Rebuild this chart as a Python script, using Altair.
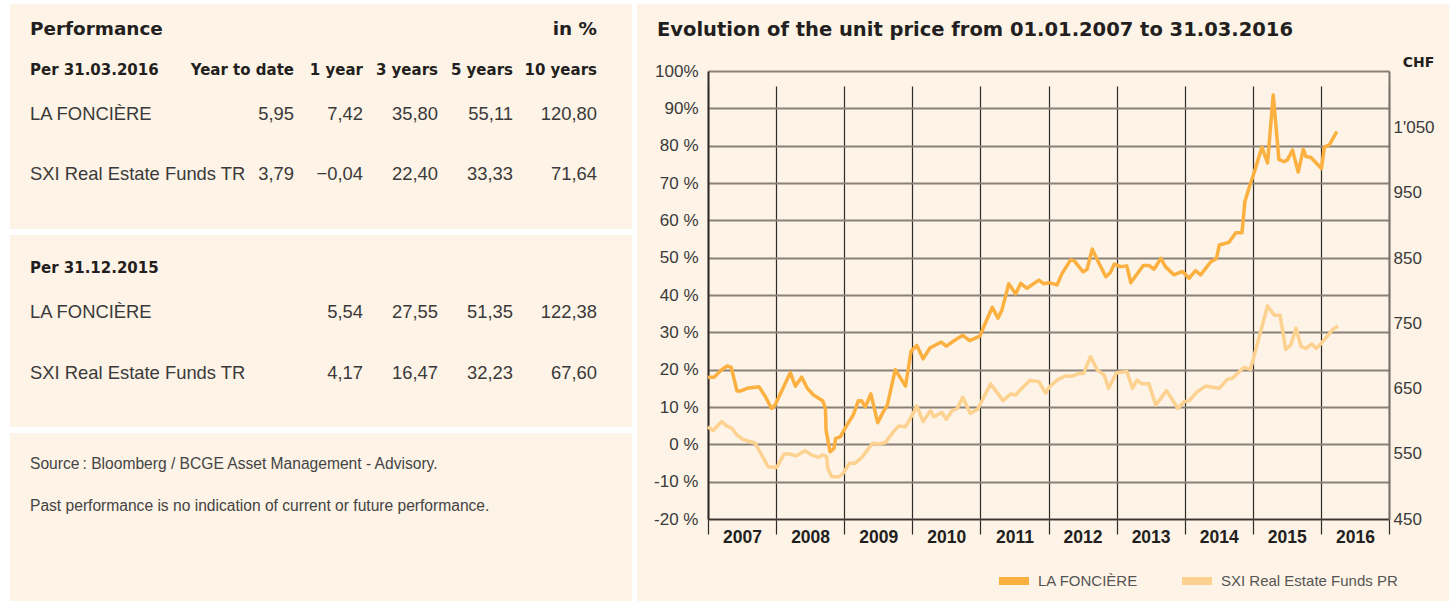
import altair as alt
import pandas as pd

# ---------------- table data ----------------
periods = ["Year to date", "1 year", "3 years", "5 years", "10 years"]
date_2016 = "Per 31.03.2016"
date_2015 = "Per 31.12.2015"
name_la = "LA FONCIÈRE"
name_sxi_tr = "SXI Real Estate Funds TR"
perf_2016_la = [5.95, 7.42, 35.80, 55.11, 120.80]
perf_2016_sxi = [3.79, -0.04, 22.40, 33.33, 71.64]
cols_2015 = [1, 2, 3, 4]          # 31.12.2015 figures sit under "1 year" ... "10 years"
perf_2015_la = [5.54, 27.55, 51.35, 122.38]
perf_2015_sxi = [4.17, 16.47, 32.23, 67.60]
notes = ["Source\u2009: Bloomberg / BCGE Asset Management - Advisory.",
         "Past performance is no indication of current or future performance."]

# ---------------- chart data (months since 01.01.2007, performance in %) ----------------
la_months = [0.0, 1.1, 2.4, 3.4, 4.1, 5.1, 5.8, 6.9, 9.0, 10.1, 11.2, 11.8, 14.5, 15.4, 16.5,
             17.5, 18.6, 20.2, 20.7, 20.8, 21.5, 22.2, 22.5, 23.3, 24.5, 25.6, 26.5, 27.1, 27.7,
             28.7, 29.9, 30.8, 31.6, 33.0, 34.8, 35.8, 36.8, 37.9, 39.1, 41.1, 42.0, 43.6, 44.9,
             46.1, 47.9, 48.6, 50.1, 51.1, 51.8, 53.0, 54.2, 55.1, 56.2, 58.3, 59.2, 60.1, 61.5,
             62.4, 63.9, 64.5, 66.1, 66.8, 67.7, 68.9, 70.1, 70.9, 71.6, 72.7, 73.8, 74.5, 75.6,
             76.7, 77.7, 78.6, 79.8, 80.6, 82.1, 83.6, 84.8, 85.9, 86.8, 88.6, 89.6, 90.1, 91.8,
             93.0, 94.1, 94.6, 95.4, 96.2, 97.6, 98.6, 99.6, 100.6, 101.5, 102.1, 103.0, 104.0,
             104.9, 105.4, 106.2, 108.1, 108.6, 109.5, 110.8]
la_pct = [18.0, 18.0, 20.0, 21.0, 20.6, 14.3, 14.3, 15.0, 15.4, 12.8, 9.6, 10.5, 19.2, 15.6, 18.0,
          15.0, 13.2, 11.7, 9.6, 3.8, -2.0, -1.1, 1.6, 2.0, 5.2, 7.9, 11.7, 11.6, 10.0,
          13.5, 5.8, 8.5, 10.5, 20.0, 15.6, 25.0, 26.5, 22.9, 25.8, 27.4, 26.3, 28.0, 29.2,
          27.8, 29.0, 31.5, 36.7, 33.8, 36.0, 43.0, 40.3, 43.1, 41.8, 44.0, 43.0, 43.3, 42.7,
          45.8, 49.4, 49.2, 46.2, 46.9, 52.3, 48.5, 44.9, 46.0, 48.3, 47.6, 47.8, 43.3, 45.6,
          47.9, 47.9, 46.9, 49.8, 47.6, 45.4, 46.3, 44.5, 46.5, 45.4, 48.9, 49.8, 53.4, 54.1,
          56.7, 56.7, 65.0, 69.0, 72.6, 79.6, 75.4, 93.6, 76.3, 75.7, 76.2, 78.8, 72.9,
          79.0, 77.0, 76.9, 73.9, 79.6, 80.2, 83.8]
sxi_months = [0.0, 0.9, 2.4, 3.2, 4.2, 5.1, 6.2, 8.3, 10.6, 12.1, 13.4, 14.5, 15.5, 17.1, 18.3,
              19.5, 20.2, 20.9, 21.1, 21.8, 23.0, 23.8, 24.9, 25.9, 27.1, 29.0, 30.1, 31.2, 32.7,
              33.6, 34.8, 35.9, 36.8, 37.9, 39.2, 39.8, 41.2, 42.0, 43.0, 43.9, 44.9, 46.2, 47.5,
              49.8, 52.0, 53.3, 54.2, 55.1, 56.7, 58.3, 59.5, 60.1, 61.5, 63.0, 64.2, 65.4, 66.2,
              67.4, 68.6, 69.8, 70.6, 72.0, 73.8, 74.8, 75.6, 76.5, 77.7, 78.9, 80.8, 82.8, 83.9,
              84.8, 86.2, 87.7, 88.9, 90.1, 91.5, 92.4, 94.4, 95.6, 98.6, 99.8, 100.8, 101.8,
              102.7, 103.6, 104.5, 105.4, 106.4, 107.2, 108.1, 110.1, 111.0]
sxi_pct = [4.7, 3.7, 6.1, 5.0, 4.3, 2.5, 1.3, 0.3, -6.0, -6.2, -2.6, -2.6, -3.1, -1.7, -2.9,
           -3.5, -2.8, -3.3, -6.4, -8.7, -8.7, -7.8, -5.1, -5.1, -3.5, 0.3, 0.1, 0.4, 3.4,
           4.9, 4.7, 7.6, 10.3, 6.1, 9.0, 7.4, 8.5, 6.7, 9.0, 9.6, 12.6, 8.3, 9.4,
           16.2, 11.7, 13.5, 13.2, 14.7, 17.1, 16.8, 13.7, 15.3, 17.2, 18.3, 18.3, 19.0, 19.0,
           23.5, 19.9, 18.6, 15.0, 19.2, 19.5, 15.0, 17.2, 16.2, 16.2, 10.5, 14.4, 9.6, 11.4,
           11.7, 14.1, 15.6, 15.3, 15.0, 17.4, 17.7, 20.6, 20.1, 37.1, 34.6, 34.6, 25.4,
           26.6, 31.1, 26.2, 25.7, 26.9, 25.7, 27.1, 30.8, 31.7]
assert len(la_months) == len(la_pct) and len(sxi_months) == len(sxi_pct)

legend_names = ["LA FONCIÈRE", "SXI Real Estate Funds PR"]
chart_title = "Evolution of the unit price from 01.01.2007 to 31.03.2016"
pct_ticks = list(range(-20, 101, 10))
year_ticks = list(range(2007, 2018))
chf_ticks = [450, 550, 650, 750, 850, 950, 1050]

# ---------------- styles ----------------
CREAM = "#fdf3e6"
FONT_R = "Liberation Sans"
FONT_B = "DejaVu Sans"
DARK = "#231f20"
TXT = "#3a3a3a"
C_LA = "#fbb040"
C_SXI = "#fdd290"


def fmt(v):
    s = f"{abs(v):.2f}".replace(".", ",")
    return ("\u2212" if v < 0 else "") + s


col_scale = alt.Scale(domain=[0, 1, 2, 3, 4], range=[284, 353, 428, 503, 587], nice=False, zero=False)


def txt(text, y, size, bold, color, x=20, align="left", font=None):
    return alt.Chart(pd.DataFrame({"t": [text]})).mark_text(
        align=align, baseline="middle", fontSize=size,
        fontWeight="bold" if bold else "normal",
        font=font or (FONT_B if bold else FONT_R), color=color
    ).encode(x=alt.value(x), y=alt.value(y), text="t:N")


def cells(texts, cols, y, size, bold, color):
    df = pd.DataFrame({"col": cols, "t": texts})
    return alt.Chart(df).mark_text(
        align="right", baseline="middle", fontSize=size,
        fontWeight="bold" if bold else "normal",
        font=FONT_B if bold else FONT_R, color=color
    ).encode(x=alt.X("col:Q", scale=col_scale, axis=None), y=alt.value(y), text="t:N")


ROW = 18.4
box1 = alt.layer(
    txt("Performance", 25, 18.4, True, DARK),
    cells(["in %"], [4], 25, 18.4, True, DARK),
    txt(date_2016, 66, 15, True, DARK),
    cells(periods, [0, 1, 2, 3, 4], 66, 15, True, DARK),
    txt(name_la, 110, ROW, False, TXT),
    cells([fmt(v) for v in perf_2016_la], [0, 1, 2, 3, 4], 110, ROW, False, TXT),
    txt(name_sxi_tr, 170, ROW, False, TXT),
    cells([fmt(v) for v in perf_2016_sxi], [0, 1, 2, 3, 4], 170, ROW, False, TXT),
).properties(width=622, height=225)

box2 = alt.layer(
    txt(date_2015, 33, 15, True, DARK),
    txt(name_la, 77, ROW, False, TXT),
    cells([fmt(v) for v in perf_2015_la], cols_2015, 77, ROW, False, TXT),
    txt(name_sxi_tr, 138, ROW, False, TXT),
    cells([fmt(v) for v in perf_2015_sxi], cols_2015, 138, ROW, False, TXT),
).properties(width=622, height=192)

box3 = alt.layer(
    txt(notes[0], 31, 15.6, False, "#444444"),
    txt(notes[1], 73, 15.6, False, "#444444"),
).properties(width=622, height=168)

left = alt.vconcat(box1, box2, box3, spacing=6)

# ---------------- right panel ----------------
lines_df = pd.concat([
    pd.DataFrame({"series": legend_names[0], "year": [2007 + m / 12 for m in la_months], "pct": la_pct}),
    pd.DataFrame({"series": legend_names[1], "year": [2007 + m / 12 for m in sxi_months], "pct": sxi_pct}),
])

title_layer = alt.Chart(pd.DataFrame({"t": [chart_title]})).mark_text(
    align="left", baseline="middle", fontSize=19.5, fontWeight="bold", font=FONT_B, color=DARK
).encode(x=alt.value(20), y=alt.value(26), text="t:N")

lines = alt.Chart(lines_df).mark_line(strokeWidth=3.5, strokeJoin="round").encode(
    x=alt.X("year:Q",
            scale=alt.Scale(domain=[2007, 2017], range=[71, 752], nice=False, zero=False),
            axis=alt.Axis(orient="bottom", offset=-82, values=year_ticks,
                          labelExpr="datum.value < 2017 ? '' + datum.value : ''",
                          labelOffset=34, labelFont=FONT_R, labelFontWeight="bold",
                          labelFontSize=17.5, labelColor=DARK, labelPadding=9,
                          labelFlush=False, labelOverlap=False, labelBound=False,
                          ticks=False, grid=True, gridColor="#2f2b28", gridWidth=1.2,
                          domainColor="#3a3530", domainWidth=1.6, title=None)),
    y=alt.Y("pct:Q",
            scale=alt.Scale(domain=[-20, 100], range=[515, 67], nice=False, zero=False),
            axis=alt.Axis(orient="left", offset=-71, values=pct_ticks,
                          labelExpr="datum.value >= 90 ? datum.value + '%' : datum.value + ' %'",
                          labelFont=FONT_R, labelFontSize=17, labelColor=TXT, labelPadding=10,
                          labelOverlap=False, labelBound=False, labelFlush=False,
                          ticks=False, grid=True, gridColor="#8a8279", gridWidth=1.8,
                          domainColor="#2f2b28", domainWidth=2, title=None)),
    color=alt.Color("series:N",
                    scale=alt.Scale(domain=legend_names, range=[C_LA, C_SXI]),
                    legend=alt.Legend(orient="none", legendX=985, legendY=558,
                                      direction="horizontal", title=None,
                                      symbolType="stroke", symbolSize=900,
                                      symbolStrokeWidth=8, labelFont=FONT_R,
                                      labelFontSize=15, labelColor="#555555",
                                      labelOffset=5, labelLimit=400,
                                      columnPadding=27, padding=0)),
)

chf_layer = alt.Chart(pd.DataFrame({"chf": chf_ticks})).mark_point(opacity=0).encode(
    y=alt.Y("chf:Q",
            scale=alt.Scale(domain=[450, 1137], range=[515, 67], nice=False, zero=False),
            axis=alt.Axis(orient="right", offset=-60, values=chf_ticks,
                          labelExpr="replace(format(datum.value, ','), ',', \"'\")",
                          labelFont=FONT_R, labelFontSize=17, labelColor=TXT, labelPadding=4,
                          labelOverlap=False, labelBound=False, labelFlush=False,
                          ticks=False, grid=False, domainColor="#7a736b", domainWidth=2,
                          title="CHF", titleAngle=0, titleX=29, titleY=58,
                          titleFont=FONT_B, titleFontSize=14, titleFontWeight="bold",
                          titleColor=DARK, titleAlign="center", titleBaseline="middle"))
)

right = alt.layer(title_layer, lines, chf_layer).resolve_scale(y="independent").properties(
    width=812, height=597)

chart = alt.hconcat(left, right, spacing=5).properties(
    padding={"left": 10, "top": 4, "right": 0, "bottom": 0},
    background="white",
).configure_view(fill=CREAM, stroke=None)

chart.save("out.html", embed_options={"renderer": "svg", "actions": False})
